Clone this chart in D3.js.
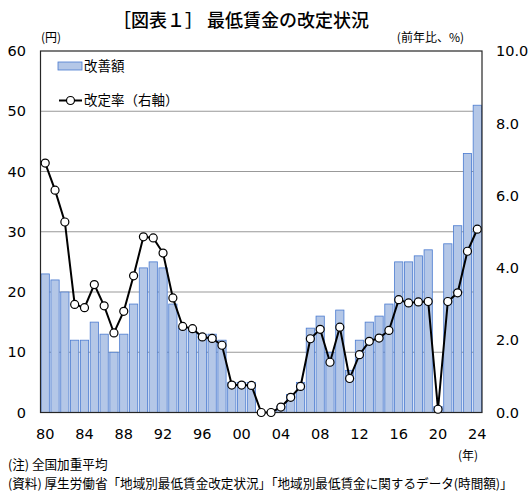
<!DOCTYPE html>
<html>
<head>
<meta charset="utf-8">
<script src="https://cdn.jsdelivr.net/npm/d3@7"></script>
<style>
  body { margin: 0; background: #fff; }
  text { font-family: "DejaVu Sans", sans-serif; fill: #000; }
  .jp { font-family: "Noto Sans CJK JP", sans-serif; }
</style>
</head>
<body>
<div id="chart-area"></div>
<script>
// data: 全国加重平均
let years = d3.range(1980, 2025);
let amounts = [23, 22, 20, 12, 12, 15, 13, 10, 13, 18,
               24, 25, 24, 18, 14, 14, 13, 13, 12, 5,
               5, 5, 0, 0, 1, 3, 5, 14, 16, 10,
               17, 7, 12, 15, 16, 18, 25, 25, 26, 27,
               1, 28, 31, 43, 51];
let rates = [6.9, 6.15, 5.27, 2.99, 2.9, 3.54, 2.95, 2.2, 2.8, 3.78,
             4.86, 4.83, 4.41, 3.17, 2.38, 2.32, 2.09, 2.05, 1.86, 0.76,
             0.76, 0.75, 0, 0, 0.15, 0.42, 0.72, 2.04, 2.3, 1.39,
             2.36, 0.94, 1.6, 1.97, 2.06, 2.27, 3.12, 3.03, 3.06, 3.07,
             0.09, 3.07, 3.31, 4.46, 5.07];
let leftTicks = [0, 10, 20, 30, 40, 50, 60];
let rightTicks = [0, 2, 4, 6, 8, 10];
let xTickYears = [1980, 1984, 1988, 1992, 1996, 2000, 2004, 2008, 2012, 2016, 2020, 2024];

let width = 530,
height = 496;

let margin = {top: 51, right: 48, bottom: 83.5, left: 40.5};

let svg = d3.select("#chart-area").append("svg")
  .attr("width", width)
  .attr("height", height);

let x = d3.scaleBand()
  .domain(years)
  .range([margin.left, width - margin.right])
  .paddingInner(0.16)
  .paddingOuter(0.06);

let yL = d3.scaleLinear().domain([0, 60]).range([height - margin.bottom, margin.top]);
let yR = d3.scaleLinear().domain([0, 10]).range([height - margin.bottom, margin.top]);

// gridlines
svg.append("g")
  .selectAll("line")
  .data(leftTicks.filter(d => d > 0 && d < 60))
  .enter().append("line")
  .attr("x1", margin.left).attr("x2", width - margin.right)
  .attr("y1", d => yL(d)).attr("y2", d => yL(d))
  .attr("stroke", "#999").attr("stroke-width", 1.2);

// bars
svg.append("g")
  .selectAll("rect")
  .data(years)
  .enter().append("rect")
  .attr("x", d => x(d))
  .attr("width", x.bandwidth())
  .attr("y", (d, i) => yL(amounts[i]))
  .attr("height", (d, i) => yL(0) - yL(amounts[i]))
  .attr("fill", "#b4c7e7")
  .attr("stroke", "#4a7bd0")
  .attr("stroke-width", 0.8);

// frame
svg.append("rect")
  .attr("x", margin.left).attr("y", margin.top)
  .attr("width", width - margin.right - margin.left)
  .attr("height", height - margin.bottom - margin.top)
  .attr("fill", "none")
  .attr("stroke", "#262626").attr("stroke-width", 1.2);

// line
let line = d3.line()
  .x((d, i) => x(years[i]) + x.bandwidth() / 2)
  .y(d => yR(d));

svg.append("path")
  .datum(rates)
  .attr("d", line)
  .attr("fill", "none")
  .attr("stroke", "#000")
  .attr("stroke-width", 2);

svg.append("g")
  .selectAll("circle")
  .data(rates)
  .enter().append("circle")
  .attr("cx", (d, i) => x(years[i]) + x.bandwidth() / 2)
  .attr("cy", d => yR(d))
  .attr("r", 4)
  .attr("fill", "#fff")
  .attr("stroke", "#000")
  .attr("stroke-width", 1.2);

// axes labels
svg.append("g")
  .selectAll("text")
  .data(leftTicks)
  .enter().append("text")
  .attr("x", 26)
  .attr("y", d => yL(d))
  .attr("dy", "0.36em")
  .attr("text-anchor", "end")
  .attr("font-size", 14.5)
  .text(d => d);

svg.append("g")
  .selectAll("text")
  .data(rightTicks)
  .enter().append("text")
  .attr("x", 496)
  .attr("y", d => yR(d))
  .attr("dy", "0.36em")
  .attr("font-size", 14.5)
  .text(d => d.toFixed(1));

svg.append("g")
  .selectAll("text")
  .data(xTickYears)
  .enter().append("text")
  .attr("x", d => x(d) + x.bandwidth() / 2)
  .attr("y", 434)
  .attr("dy", "0.36em")
  .attr("text-anchor", "middle")
  .attr("font-size", 14.5)
  .text(d => String(d).slice(2));

// title and units
svg.append("text").attr("class", "jp")
  .attr("x", 241).attr("y", 27)
  .attr("text-anchor", "middle")
  .attr("font-size", 18)
  .attr("font-weight", 500)
  .text("［図表１］ 最低賃金の改定状況");

svg.append("text").attr("class", "jp")
  .attr("x", 41).attr("y", 42)
  .attr("font-size", 12)
  .text("(円)");

svg.append("text").attr("class", "jp")
  .attr("x", 464).attr("y", 42)
  .attr("text-anchor", "end")
  .attr("font-size", 12)
  .text("(前年比、%)");

svg.append("text").attr("class", "jp")
  .attr("x", 468).attr("y", 460)
  .attr("text-anchor", "middle")
  .attr("font-size", 12)
  .text("(年)");

// legend
let legend = svg.append("g");
legend.append("rect")
  .attr("x", 58).attr("y", 62)
  .attr("width", 24).attr("height", 8)
  .attr("fill", "#b4c7e7").attr("stroke", "#4a7bd0").attr("stroke-width", 0.8);
legend.append("text").attr("class", "jp")
  .attr("x", 84).attr("y", 66).attr("dy", "0.36em")
  .attr("font-size", 13.5)
  .text("改善額");
legend.append("line")
  .attr("x1", 59).attr("x2", 82).attr("y1", 100.5).attr("y2", 100.5)
  .attr("stroke", "#000").attr("stroke-width", 2);
legend.append("circle")
  .attr("cx", 70.5).attr("cy", 100.5).attr("r", 4)
  .attr("fill", "#fff").attr("stroke", "#000").attr("stroke-width", 1.2);
legend.append("text").attr("class", "jp")
  .attr("x", 84).attr("y", 100.5).attr("dy", "0.36em")
  .attr("font-size", 13.5)
  .text("改定率（右軸）");

// notes
svg.append("text").attr("class", "jp")
  .attr("x", 8).attr("y", 469)
  .attr("font-size", 12.6)
  .text("(注) 全国加重平均");
svg.append("text").attr("class", "jp")
  .attr("x", 8).attr("y", 488)
  .attr("font-size", 12.6)
  .text("(資料) 厚生労働省「地域別最低賃金改定状況」「地域別最低賃金に関するデータ(時間額)」");
</script>
</body>
</html>
